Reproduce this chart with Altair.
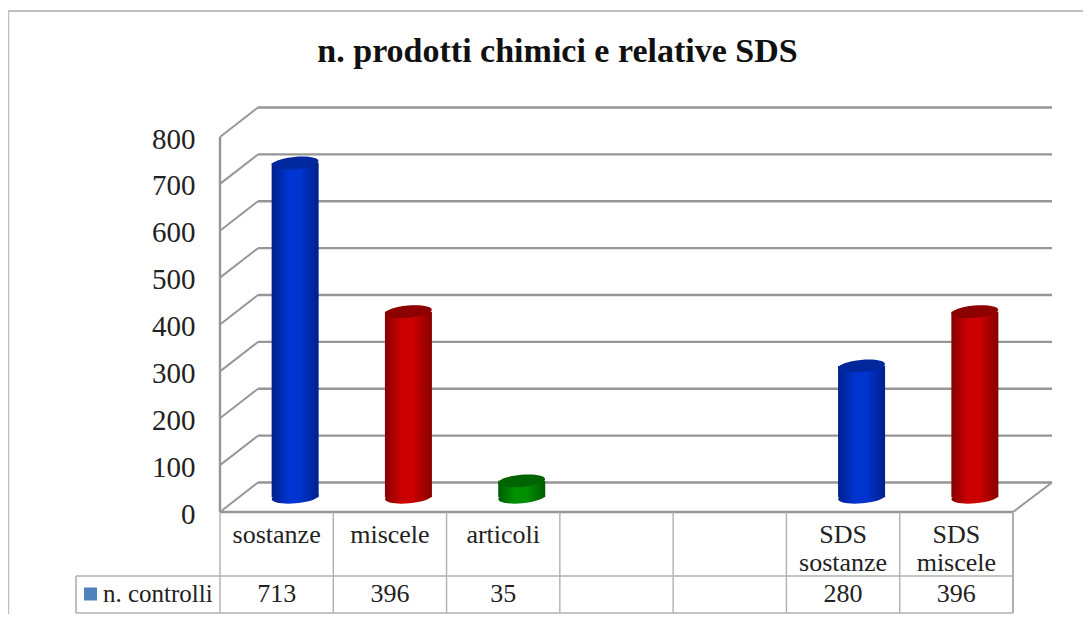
import altair as alt
import pandas as pd

TITLE = "n. prodotti chimici e relative SDS"
categories = ["sostanze", "miscele", "articoli", " ", "  ", "SDS sostanze", "SDS miscele"]
cat_lines = [["sostanze"], ["miscele"], ["articoli"], [""], [""], ["SDS", "sostanze"], ["SDS", "miscele"]]
values = [713, 396, 35, None, None, 280, 396]
value_labels = ["713", "396", "35", "", "", "280", "396"]
hues = ["blue", "red", "green", None, None, "blue", "red"]
ticks = [0, 100, 200, 300, 400, 500, 600, 700, 800]
series_name = "n. controlli"

palette = {
    "blue": ("#00208a", "#0034d0", "#00289c"),
    "red": ("#860000", "#cc0000", "#8c0000"),
    "green": ("#005c00", "#009000", "#006400"),
}
FONT = "Liberation Serif"
GRID = "#969696"
TABLE = "#b0b0b0"
W, H = 793, 375
DEPTH = 62.9       # depth of the floor expressed in y-axis units (about 29.5 px)
BAR_DX, BAR_DY = 18.5, -14.75
ELLIPSE = "M -0.9962 0.0872 A 1 0.26 -5 1 1 0.9962 -0.0872 A 1 0.26 -5 1 1 -0.9962 0.0872 Z"

df = pd.DataFrame({"cat": categories, "value": values, "hue": hues,
                   "lines": cat_lines, "vlabel": value_labels})
bars_df = df.dropna(subset=["value"])
ticks_df = pd.DataFrame({"tick": ticks})

xs = alt.Scale(domain=categories, paddingInner=0, paddingOuter=0)
ys = alt.Scale(domain=[0, 800], nice=False)
X = alt.X("cat:N", scale=xs, axis=None, sort=categories)
AX = alt.Axis(values=ticks, grid=False, domain=False, ticks=False, labelPadding=25, title=None,
              labelFont=FONT, labelFontSize=29, labelColor="#222222", labelOffset=2)


def Y(field):
    return alt.Y(field, scale=ys, axis=AX, stack=None)


layers = []

# outer frame
frame = alt.Chart(ticks_df.head(1))
layers.append(frame.mark_rule(color="#c0c0c0", strokeWidth=1.5).encode(
    x=alt.value(-211.5), y=alt.value(-126), y2=alt.value(480)))
layers.append(frame.mark_rule(color="#c0c0c0", strokeWidth=2).encode(
    x=alt.value(-212), x2=alt.value(871), y=alt.value(-126)))

# back wall gridlines, side wall diagonals, left wall axis
grid = alt.Chart(ticks_df).transform_calculate(b="datum.tick + %s" % DEPTH)
zero = grid.transform_filter("datum.tick == 0")
layers.append(grid.mark_rule(color=GRID, strokeWidth=2.4).encode(
    x=alt.value(38), x2=alt.value(832), y=Y("b:Q")))
layers.append(grid.mark_rule(color=GRID, strokeWidth=1.9).encode(
    x=alt.value(0), x2=alt.value(38), y=Y("tick:Q"), y2="b:Q"))
layers.append(zero.mark_rule(color=GRID, strokeWidth=2.4).encode(
    x=alt.value(0), y=Y("tick:Q"), y2=alt.Y2(datum=800)))
layers.append(zero.mark_rule(color=GRID, strokeWidth=2.4).encode(
    x=alt.value(0), x2=alt.value(W), y=Y("tick:Q")))
layers.append(zero.mark_rule(color=GRID, strokeWidth=1.9).encode(
    x=alt.value(W), x2=alt.value(832), y=Y("tick:Q"), y2="b:Q"))


def grad(edge, mid):
    return alt.LinearGradient(gradient="linear", x1=0, x2=1, y1=0, y2=0, stops=[
        alt.GradientStop(color=edge, offset=0), alt.GradientStop(color=mid, offset=0.35),
        alt.GradientStop(color=mid, offset=0.6), alt.GradientStop(color=edge, offset=1)])


# cylinders
for hue, (edge, mid, top) in palette.items():
    base = alt.Chart(bars_df[bars_df.hue == hue])
    layers.append(base.transform_calculate(zero="0").mark_point(
        filled=True, shape=ELLIPSE, size=2209, opacity=1, fill=grad(edge, mid),
        strokeWidth=0, xOffset=BAR_DX, yOffset=BAR_DY).encode(x=X, y=Y("zero:Q")))
    layers.append(base.mark_bar(width=47, fill=grad(edge, mid), xOffset=BAR_DX, x2Offset=BAR_DX,
                                yOffset=BAR_DY, y2Offset=BAR_DY).encode(
        x=X, y=Y("value:Q"), y2=alt.Y2(datum=0)))
    layers.append(base.mark_point(filled=True, shape=ELLIPSE, size=2209, opacity=1, fill=top,
                                  strokeWidth=0, xOffset=BAR_DX, yOffset=BAR_DY).encode(
        x=X, y=Y("value:Q")))

# data table lines
table = alt.Chart(df)
layers.append(table.mark_rule(color=TABLE, strokeWidth=1.4).encode(
    x=alt.X("cat:N", scale=xs, axis=None, sort=categories, bandPosition=0),
    y=alt.value(H), y2=alt.value(476)))
layers.append(table.mark_rule(color=TABLE, strokeWidth=1.4).encode(
    x=alt.value(W), y=alt.value(H), y2=alt.value(476)))
hline = alt.Chart(ticks_df.head(1))
for yy in (439, 476):
    layers.append(hline.mark_rule(color=TABLE, strokeWidth=1.6).encode(
        x=alt.value(-144), x2=alt.value(W), y=alt.value(yy)))
layers.append(hline.mark_rule(color=TABLE, strokeWidth=1.6).encode(
    x=alt.value(-144), y=alt.value(439), y2=alt.value(476)))

# table text
layers.append(table.mark_text(font=FONT, fontSize=26, color="#222222", baseline="middle", lineHeight=28).encode(
    x=X, y=alt.value(398), text="lines:N"))
layers.append(table.mark_text(font=FONT, fontSize=26, color="#222222", baseline="middle").encode(
    x=X, y=alt.value(457), text="vlabel:N"))

# legend key inside the table
legend = alt.Chart(pd.DataFrame({"s": [series_name]}))
layers.append(legend.mark_square(size=169, color="#4f81bd", opacity=1).encode(
    x=alt.value(-129.5), y=alt.value(457)))
layers.append(legend.mark_text(font=FONT, fontSize=25, color="#222222", align="left", baseline="middle").encode(
    x=alt.value(-117), y=alt.value(457), text="s:N"))

chart = alt.layer(*layers).properties(
    width=W, height=H,
    autosize=alt.AutoSizeParams(type="none"),
    padding={"left": 212, "top": 129, "right": 70, "bottom": 102},
    title=alt.TitleParams(TITLE, font=FONT, fontSize=34, fontWeight="bold", color="#111111",
                          anchor="middle", dx=-59, offset=-59),
).configure_view(stroke=None)

chart.save("out.html", embed_options={"renderer": "svg", "actions": False})
